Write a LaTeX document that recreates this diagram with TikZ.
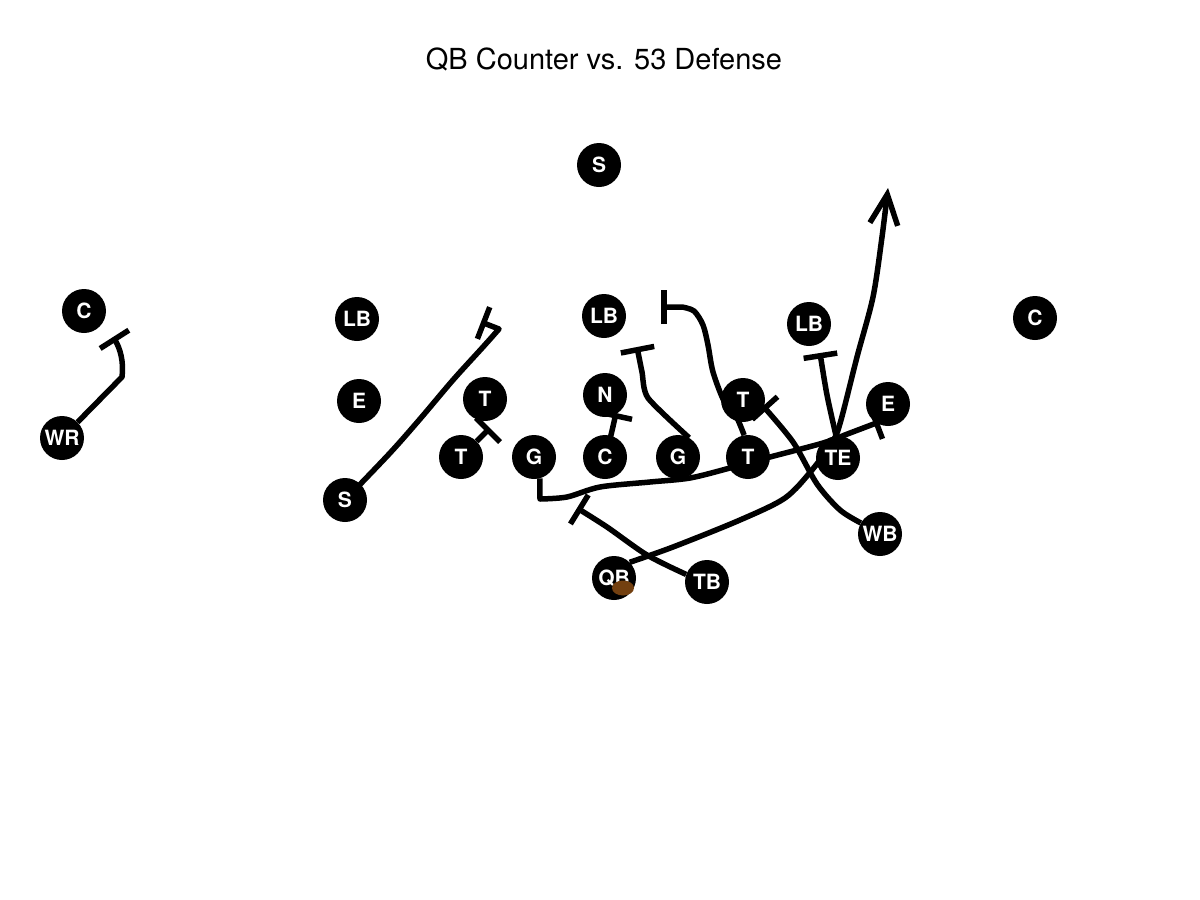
\documentclass[tikz,border=0pt]{standalone}
\usepackage{fontspec}
\setmainfont{TeX Gyre Heros}
\usetikzlibrary{arrows.meta,backgrounds}
\definecolor{ballbrown}{RGB}{115,64,16}

\begin{document}
\begin{tikzpicture}[x=1pt, y=-1pt,
  player/.style={circle, fill=black, text=white, minimum size=44pt, inner sep=0pt,
    font=\fontsize{21}{21}\selectfont\bfseries},
  route/.style={line width=5.5pt, line join=round},
  block/.style={route, -{Bar[width=34pt]}},
  run/.style={route, -{Straight Barb[length=30pt,width=28pt]}}]
\useasboundingbox (0,0) rectangle (1200,900);
\node[font=\fontsize{29}{34}\selectfont] (title) at (604,59) {QB Counter vs. 53 Defense};
\foreach \id/\px/\py/\txt in {fs/599/165/S, cbl/84/311/C, lbl/357/319/LB, el/359/401/E,
    ss/345/500/S, dtl/485/399/T, n/605/395/N, lbm/604/316/LB, dtr/743/400/T,
    lbr/809/324/LB, er/888/404/E, cbr/1035/318/C, wr/62/438/WR, otl/461/457/T,
    gl/534/457/G, c/605/457/C, gr/678/457/G, otr/748/457/T, te/838/458/TE,
    wb/880/534/WB, qb/614/578/QB, tb/707/582/TB}
  \node[player] (\id) at (\px,\py) {\txt};
\coordinate (wrblk) at (113,337);
\coordinate (ssblk) at (481,322);
\coordinate (otlblk) at (490,428);
\coordinate (cblk) at (616,413);
\coordinate (grblk) at (637,347);
\coordinate (otrblk) at (661,307);
\coordinate (teblk) at (820,353);
\coordinate (glblk) at (879,422);
\coordinate (tbblk) at (577,508);
\coordinate (wbblk) at (763,406);
\coordinate (goal) at (888,188);
\begin{pgfonlayer}{background}
\draw[block] (wr) -- (122,377) .. controls (124,362) and (120,348) .. (wrblk);
\draw[block] plot[smooth] coordinates {(ss) (390,453) (420,419) (453,380) (483,347) (499,329)} -- (ssblk);
\draw[block] (otl) -- (otlblk);
\draw[block] plot[smooth] coordinates {(c) (611,435) (cblk)};
\draw[block] plot[smooth, tension=0.4] coordinates {(gr.60) (648,398) (642,372) (grblk)};
\draw[block] plot[smooth, tension=0.5] coordinates {(otr.100) (736,416) (724,401) (713,372) (708,345) (703,325) (694,311) (682,307)} -- (otrblk);
\draw[block] plot[smooth] coordinates {(te.95) (827,395) (teblk)};
\draw[block] (gl.-75) -- plot[smooth] coordinates {(540,499) (567,497) (600,487) (650,482) (690,478) (730,468) (770,457) (823,443) (850,433) (glblk)};
\draw[block] plot[smooth] coordinates {(tb.160) (647,555) (607,527) (tbblk)};
\draw[block] plot[smooth] coordinates {(wb.150) (840,510) (817,484) (793,442) (wbblk)};
\draw[run] plot[smooth] coordinates {(qb.45) (673,547) (740,520) (785,498) (812,470) (833,441) (841,420) (857,357) (873,297) (882,237) (goal)};
\end{pgfonlayer}
\fill[ballbrown] (623,588) ellipse [x radius=11pt, y radius=7.5pt];
\end{tikzpicture}
\end{document}
